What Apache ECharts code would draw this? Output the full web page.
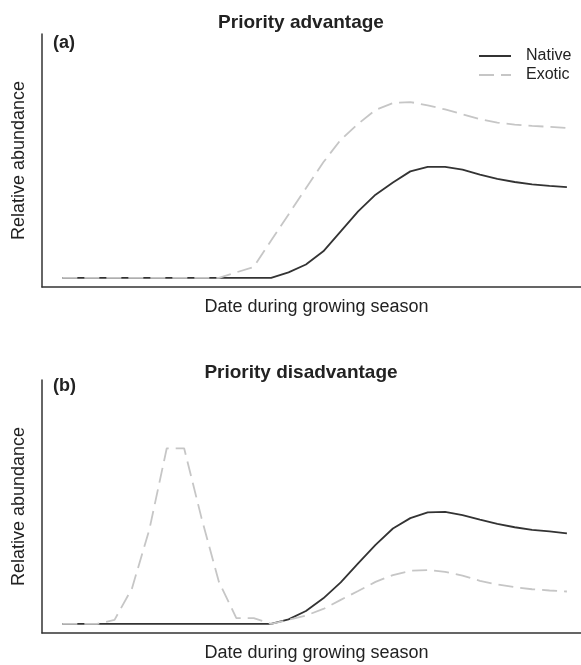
<!DOCTYPE html>
<html>
<head>
<meta charset="utf-8">
<script src="https://cdn.jsdelivr.net/npm/echarts@6/dist/echarts.min.js"></script>
<style>
html,body{margin:0;padding:0;background:#fff;}
#chart{width:581px;height:665px;}
</style>
</head>
<body>
<div id="chart"></div>
<script>
// Time steps along the growing season (index of sampling date)
var days = [0,1,2,3,4,5,6,7,8,9,10,11,12,13,14,15,16,17,18,19,20,21,22,23,24,25,26,27,28,29];

// Panel (a): Priority advantage
var nativeA = [0,0,0,0,0,0,0,0,0,0,0,0,0,2.2,5.3,10.5,18.4,26.3,32.9,37.7,42.1,43.9,43.9,42.8,40.8,39.1,37.9,37.0,36.4,35.9];
var exoticA = [0,0,0,0,0,0,0,0,0,0,2.2,4.3,14.8,25.1,35.4,45.7,54.6,60.9,66.4,69.1,69.5,68.2,66.6,64.7,62.7,61.4,60.6,60.1,59.7,59.3];

// Panel (b): Priority disadvantage
var nativeB = [0,0,0,0,0,0,0,0,0,0,0,0,0,1.8,5.1,10.1,16.4,23.9,31.2,37.7,41.8,44.1,44.3,43.0,41.2,39.5,38.2,37.2,36.6,35.8];
var exoticB = [0,0,0,1.6,14.0,37.3,69.4,69.4,41.8,16.6,2.3,2.3,0,1.6,3.3,5.9,9.5,13.0,16.6,19.3,21.0,21.3,20.6,19.1,17.0,15.6,14.5,13.7,13.2,12.8];

var panelTitles = ['Priority advantage', 'Priority disadvantage'];
var panelLetters = ['(a)', '(b)'];
var legendNames = ['Native', 'Exotic'];
var xName = 'Date during growing season';
var yName = 'Relative abundance';

function pairs(vals){ return days.map(function(d,i){ return [d, vals[i]]; }); }

var FONT = '"Liberation Sans", Arial, Helvetica, sans-serif';
var NATIVE_COLOR = '#333333';
var EXOTIC_COLOR = '#c6c6c6';

var chart = echarts.init(document.getElementById('chart'), null, {renderer:'canvas'});

function xAx(gi){
  return {
    type:'value', gridIndex:gi, min:-1.17, max:29.81,
    axisLine:{show:true, onZero:false, lineStyle:{color:'#333', width:1.5}},
    axisTick:{show:false}, axisLabel:{show:false}, splitLine:{show:false},
    name:xName, nameLocation:'middle', nameGap:11,
    nameTextStyle:{fontFamily:FONT, fontSize:18, color:'#222', verticalAlign:'top', padding:[0,0,0,10]}
  };
}
function yAx(gi){
  return {
    type:'value', gridIndex:gi, min:-3.6, max:96.4,
    axisLine:{show:true, onZero:false, lineStyle:{color:'#333', width:1.5}},
    axisTick:{show:false}, axisLabel:{show:false}, splitLine:{show:false},
    name:yName, nameLocation:'middle', nameGap:14,
    nameTextStyle:{fontFamily:FONT, fontSize:18, color:'#222'}
  };
}
function nativeSeries(name, vals, gi){
  return {name:name, type:'line', xAxisIndex:gi, yAxisIndex:gi, data:pairs(vals),
    symbol:'none', showSymbol:false, smooth:false, animation:false, z:2,
    lineStyle:{color:NATIVE_COLOR, width:1.8, type:'solid'}, itemStyle:{color:NATIVE_COLOR}};
}
function exoticSeries(name, vals, gi){
  return {name:name, type:'line', xAxisIndex:gi, yAxisIndex:gi, data:pairs(vals),
    symbol:'none', showSymbol:false, smooth:false, animation:false, z:3,
    lineStyle:{color:EXOTIC_COLOR, width:1.8, type:[15,7]}, itemStyle:{color:EXOTIC_COLOR}};
}

var option = {
  backgroundColor:'#fff',
  animation:false,
  title:[
    {text:panelTitles[0], left:296, top:8, textAlign:'center', textStyle:{fontFamily:FONT, fontSize:19, fontWeight:'bold', color:'#222'}},
    {text:panelTitles[1], left:296, top:358, textAlign:'center', textStyle:{fontFamily:FONT, fontSize:19, fontWeight:'bold', color:'#222'}},
    {text:panelLetters[0], left:48, top:29, textStyle:{fontFamily:FONT, fontSize:18, fontWeight:'bold', color:'#222'}},
    {text:panelLetters[1], left:48, top:372, textStyle:{fontFamily:FONT, fontSize:18, fontWeight:'bold', color:'#222'}}
  ],
  legend:{
    orient:'vertical', left:478, top:48, padding:0, itemWidth:32, itemHeight:14, itemGap:3,
    data:legendNames,
    itemStyle:{opacity:0},
    textStyle:{fontFamily:FONT, fontSize:16, color:'#222', padding:[0,0,0,10]}
  },
  grid:[
    {left:42, top:34, width:539, height:253},
    {left:42, top:380, width:539, height:253}
  ],
  xAxis:[xAx(0), xAx(1)],
  yAxis:[yAx(0), yAx(1)],
  series:[
    nativeSeries(legendNames[0], nativeA, 0),
    exoticSeries(legendNames[1], exoticA, 0),
    nativeSeries(legendNames[0], nativeB, 1),
    exoticSeries(legendNames[1], exoticB, 1)
  ]
};
chart.setOption(option);
</script>
</body>
</html>
